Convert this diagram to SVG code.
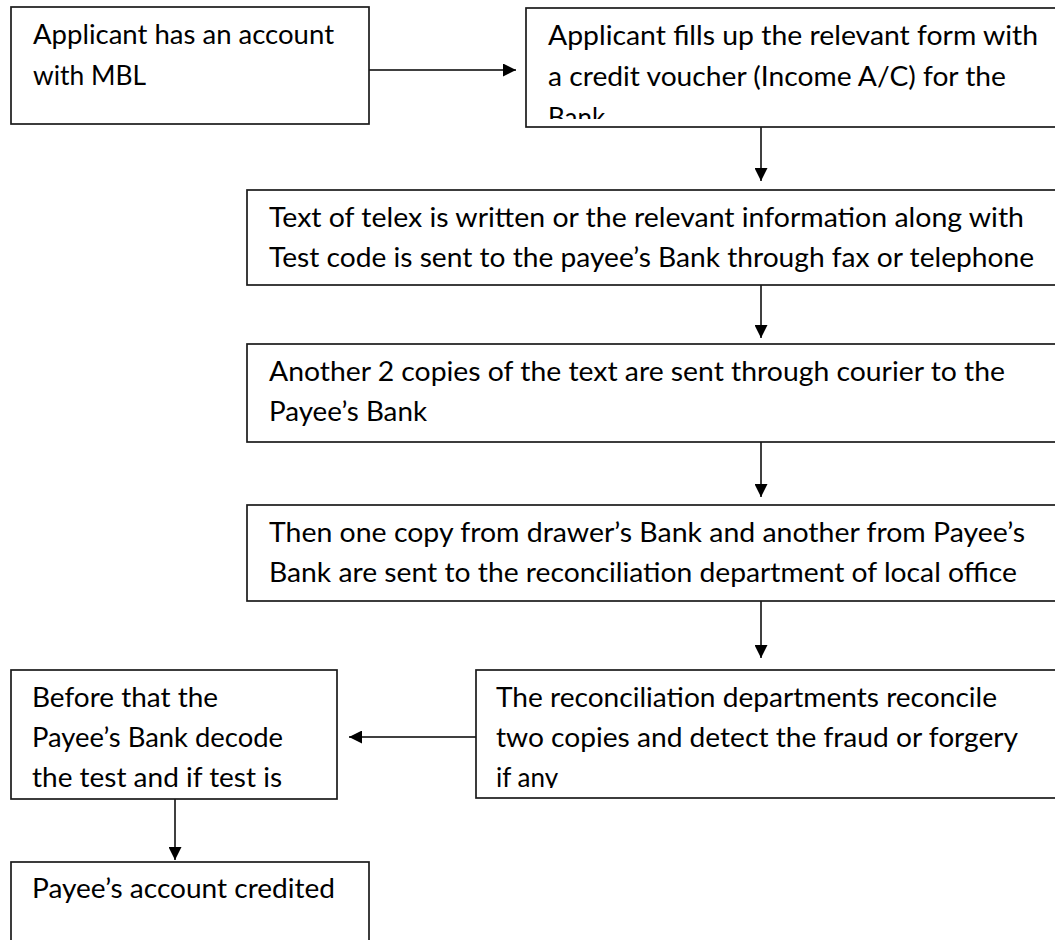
<svg xmlns="http://www.w3.org/2000/svg" width="1055" height="940" viewBox="0 0 1055 940">
  <style>
    .box { fill: #ffffff; stroke: #1a1a1a; stroke-width: 1.7; }
    .t { font-family: Lato, "Noto Sans", "Liberation Sans", sans-serif; font-size: 26px; fill: #000000; }
    .link { stroke: #000000; stroke-width: 1.5; fill: none; marker-end: url(#head); }
  </style>
  <defs>
    <marker id="head" viewBox="0 0 13 13" refX="13" refY="6.5" markerWidth="13" markerHeight="13" markerUnits="userSpaceOnUse" orient="auto">
      <path d="M0,0 L13,6.5 L0,13 Z" fill="#000000"/>
    </marker>
    <clipPath id="clipForm"><rect x="526" y="8" width="540" height="111"/></clipPath>
    <clipPath id="clipRecon"><rect x="476" y="670" width="590" height="118"/></clipPath>
  </defs>

  <rect width="1055" height="940" fill="#ffffff"/>

  <!-- flow connectors -->
  <g id="connectors">
    <line class="link" x1="369" y1="70" x2="516" y2="70"/>
    <line class="link" x1="761" y1="127" x2="761" y2="181"/>
    <line class="link" x1="761" y1="285" x2="761" y2="338"/>
    <line class="link" x1="761" y1="442" x2="761" y2="497"/>
    <line class="link" x1="761" y1="601" x2="761" y2="658"/>
    <line class="link" x1="476" y1="737" x2="349" y2="737"/>
    <line class="link" x1="175" y1="799" x2="175" y2="860"/>
  </g>

  <g id="account">
    <rect class="box" x="11" y="7" width="358" height="117"/>
    <text class="t" x="33" y="44" textLength="301" lengthAdjust="spacingAndGlyphs">Applicant has an account</text>
    <text class="t" x="33" y="85" textLength="113" lengthAdjust="spacingAndGlyphs">with MBL</text>
  </g>

  <g id="form">
    <rect class="box" x="526" y="8" width="540" height="119"/>
    <g clip-path="url(#clipForm)">
      <text class="t" x="548" y="45" textLength="490" lengthAdjust="spacingAndGlyphs">Applicant fills up the relevant form with</text>
      <text class="t" x="548" y="86" textLength="458" lengthAdjust="spacingAndGlyphs">a credit voucher  (Income A/C) for the</text>
      <text class="t" x="548" y="127">Bank</text>
    </g>
  </g>

  <g id="telex">
    <rect class="box" x="247" y="190" width="820" height="95"/>
    <text class="t" x="269" y="227" textLength="755" lengthAdjust="spacingAndGlyphs">Text of telex is written or the relevant information along with</text>
    <text class="t" x="269" y="267" textLength="765" lengthAdjust="spacingAndGlyphs">Test code is sent to the payee’s Bank through fax or telephone</text>
  </g>

  <g id="courier">
    <rect class="box" x="247" y="344" width="820" height="98"/>
    <text class="t" x="269" y="381" textLength="736" lengthAdjust="spacingAndGlyphs">Another 2 copies of the text are sent through courier to the</text>
    <text class="t" x="269" y="421" textLength="158" lengthAdjust="spacingAndGlyphs">Payee’s Bank</text>
  </g>

  <g id="copies">
    <rect class="box" x="247" y="505" width="820" height="96"/>
    <text class="t" x="269" y="542" textLength="756" lengthAdjust="spacingAndGlyphs">Then one copy from drawer’s Bank and another from Payee’s</text>
    <text class="t" x="269" y="582" textLength="748" lengthAdjust="spacingAndGlyphs">Bank are sent to the reconciliation department of local office</text>
  </g>

  <g id="reconcile">
    <rect class="box" x="476" y="670" width="590" height="128"/>
    <g clip-path="url(#clipRecon)">
      <text class="t" x="496" y="707" textLength="501" lengthAdjust="spacingAndGlyphs">The reconciliation departments reconcile</text>
      <text class="t" x="496" y="747" textLength="522" lengthAdjust="spacingAndGlyphs">two copies and detect the fraud or forgery</text>
      <text class="t" x="496" y="787">if any</text>
    </g>
  </g>

  <g id="decode">
    <rect class="box" x="11" y="670" width="326" height="129"/>
    <text class="t" x="32" y="707" textLength="186" lengthAdjust="spacingAndGlyphs">Before that the</text>
    <text class="t" x="32" y="747" textLength="251" lengthAdjust="spacingAndGlyphs">Payee’s Bank decode</text>
    <text class="t" x="32" y="787" textLength="250" lengthAdjust="spacingAndGlyphs">the test and if test is</text>
  </g>

  <g id="credited">
    <rect class="box" x="11" y="862" width="358" height="100"/>
    <text class="t" x="32" y="898" textLength="303" lengthAdjust="spacingAndGlyphs">Payee’s account credited</text>
  </g>
</svg>
